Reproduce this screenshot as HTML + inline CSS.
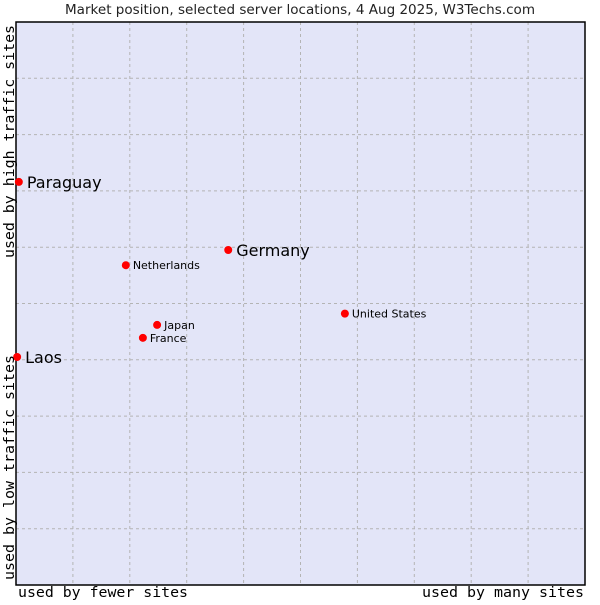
<!DOCTYPE html>
<html><head><meta charset="utf-8"><style>
body{margin:0;background:#fff;width:600px;height:600px;overflow:hidden}
svg{font-family:"DejaVu Sans","Liberation Sans",sans-serif}
</style></head><body>
<svg id="c" width="600" height="600">
<text x="300" y="14" text-anchor="middle" font-size="13" textLength="470" lengthAdjust="spacingAndGlyphs" fill="#222">Market position, selected server locations, 4 Aug 2025, W3Techs.com</text>
<rect x="16" y="22" width="569" height="563" fill="#e3e5f8"/>
<g id="grid"></g>
<rect x="16" y="22" width="569" height="563" fill="none" stroke="#000" stroke-width="1.5"/>
<g id="pts"></g>
<text x="18" y="597" font-family="DejaVu Sans Mono,Liberation Mono,monospace" font-size="14" textLength="170" lengthAdjust="spacingAndGlyphs">used by fewer sites</text>
<text x="422" y="597" font-family="DejaVu Sans Mono,Liberation Mono,monospace" font-size="14" textLength="162" lengthAdjust="spacingAndGlyphs">used by many sites</text>
<text transform="translate(14,258) rotate(-90)" font-family="DejaVu Sans Mono,Liberation Mono,monospace" font-size="14" textLength="233" lengthAdjust="spacingAndGlyphs">used by high traffic sites</text>
<text transform="translate(14,580) rotate(-90)" font-family="DejaVu Sans Mono,Liberation Mono,monospace" font-size="14" textLength="225" lengthAdjust="spacingAndGlyphs">used by low traffic sites</text>
</svg>
<script>
const names=["Paraguay","Laos","Germany","Netherlands","Japan","France","United States"];
const xs=[0.5,0.2,37.3,19.3,24.8,22.3,57.8];
const ys=[71.6,40.5,59.5,56.8,46.2,43.9,48.2];
const big=[true,true,true,false,false,false,false];
const X0=16,X1=585,Y0=585,Y1=22;
const sx=v=>X0+v/100*(X1-X0), sy=v=>Y0-v/100*(Y0-Y1);
const NS="http://www.w3.org/2000/svg";
const g=document.getElementById('grid');
for(let i=1;i<10;i++){
 const v=document.createElementNS(NS,'line');
 v.setAttribute('x1',sx(i*10));v.setAttribute('x2',sx(i*10));v.setAttribute('y1',Y1);v.setAttribute('y2',Y0);
 v.setAttribute('stroke','#b4b4b4');v.setAttribute('stroke-dasharray','3,3');
 
 
 g.appendChild(v);
 const h=document.createElementNS(NS,'line');
 h.setAttribute('y1',sy(i*10));h.setAttribute('y2',sy(i*10));h.setAttribute('x1',X0);h.setAttribute('x2',X1);
 h.setAttribute('stroke','#b4b4b4');h.setAttribute('stroke-dasharray','3,3');
 
 
 g.appendChild(h);
}
const p=document.getElementById('pts');
names.forEach((n,i)=>{
 const x=sx(xs[i]),y=sy(ys[i]);
 const c=document.createElementNS(NS,'circle');
 c.setAttribute('cx',x);c.setAttribute('cy',y);c.setAttribute('r',4);c.setAttribute('fill','#f00');
 
 
 p.appendChild(c);
 const t=document.createElementNS(NS,'text');
 t.setAttribute('x',x+(big[i]?8:7));t.setAttribute('y',y+(big[i]?6:4));
 t.setAttribute('font-size',big[i]?16:11);
 t.textContent=n;
 
 
 p.appendChild(t);
});
</script>
</body></html>
